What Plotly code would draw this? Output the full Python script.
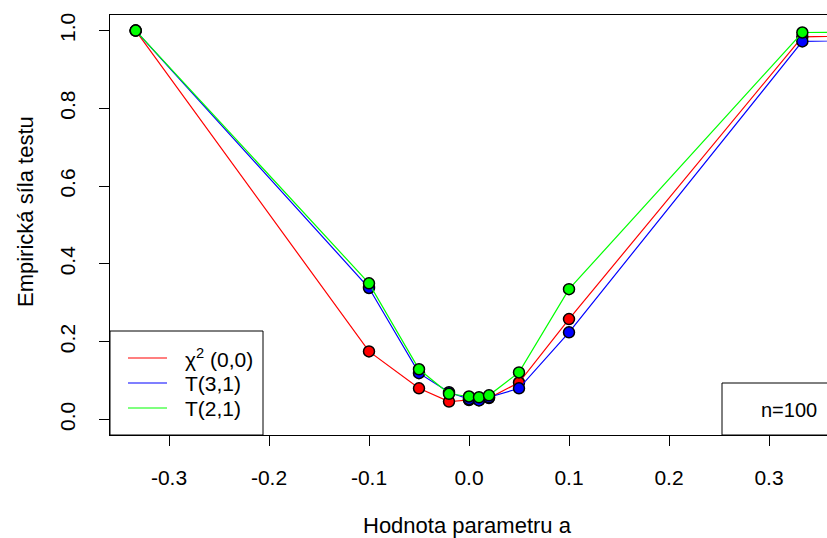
import plotly.graph_objects as go

# Data
a_vals = [-1/3, -0.1, -0.05, -0.02, 0.0, 0.01, 0.02, 0.05, 0.1, 1/3, 0.5]
chi2_00 = [1.0, 0.175, 0.080, 0.046, 0.050, 0.050, 0.055, 0.095, 0.258, 0.984, 0.990]
t_31 = [1.0, 0.338, 0.119, 0.070, 0.052, 0.049, 0.057, 0.080, 0.224, 0.972, 0.980]
t_21 = [1.0, 0.350, 0.129, 0.066, 0.059, 0.057, 0.062, 0.121, 0.335, 0.995, 0.998]

series_names = ["χ<sup>2</sup> (0,0)", "T(3,1)", "T(2,1)"]
series_values = [chi2_00, t_31, t_21]
series_colors = ["#FF0000", "#0000FF", "#00FF00"]

x_ticks = [-0.3, -0.2, -0.1, 0.0, 0.1, 0.2, 0.3]
x_ticklabels = ["-0.3", "-0.2", "-0.1", "0.0", "0.1", "0.2", "0.3"]
y_ticks = [0.0, 0.2, 0.4, 0.6, 0.8, 1.0]
y_ticklabels = ["0.0", "0.2", "0.4", "0.6", "0.8", "1.0"]

FONT = "Liberation Sans, Arial, sans-serif"
W, H = 827, 538
L, R, T, B = 110, 0, 15, 103
PW, PH = W - L - R, H - T - B


def px(xp):
    return (xp - L) / PW


def py(yp):
    return (H - B - yp) / PH


fig = go.Figure()
for name, vals, col in zip(series_names, series_values, series_colors):
    fig.add_trace(go.Scatter(
        x=a_vals, y=vals, mode="lines+markers", name=name,
        line=dict(color=col, width=1.2),
        marker=dict(color=col, size=11, line=dict(color="black", width=1.5)),
        showlegend=False,
    ))

fig.update_layout(
    width=W, height=H,
    margin=dict(l=L, r=R, t=T, b=B),
    paper_bgcolor="white", plot_bgcolor="white",
    font=dict(family=FONT, size=21, color="black"),
    showlegend=False,
    xaxis=dict(
        range=[-0.359, 0.358], tickvals=x_ticks, ticktext=x_ticklabels,
        showgrid=False, zeroline=False, showline=True, linecolor="black",
        linewidth=1, mirror=True, ticks="outside", ticklen=10,
        tickcolor="black", ticklabelstandoff=14,
        tickfont=dict(size=21),
    ),
    yaxis=dict(
        range=[-0.04, 1.04], tickvals=y_ticks, ticktext=y_ticklabels,
        showgrid=False, zeroline=False, showline=True, linecolor="black",
        linewidth=1, mirror=False, ticks="outside", ticklen=10,
        tickcolor="black", tickangle=-90, ticklabelstandoff=16,
        tickfont=dict(size=21),
    ),
)

# axis titles
fig.add_annotation(text="Hodnota parametru a", xref="paper", yref="paper",
                   x=px(467), y=py(525),
                   xanchor="center", yanchor="middle", showarrow=False,
                   font=dict(size=22))
fig.add_annotation(text="Empirická síla testu", xref="paper", yref="paper",
                   x=px(25), y=py(212), textangle=-90,
                   xanchor="center", yanchor="middle", showarrow=False,
                   font=dict(size=22))

# legend box (custom, R-style)
fig.add_shape(type="rect", xref="paper", yref="paper",
              x0=0, x1=px(263), y0=0, y1=py(331),
              line=dict(color="black", width=1), fillcolor="white", layer="above")
legend_rows = [358, 383, 408]
for name, col, ry in zip(series_names, series_colors, legend_rows):
    fig.add_shape(type="line", xref="paper", yref="paper",
                  x0=px(128), x1=px(167), y0=py(ry), y1=py(ry),
                  line=dict(color=col, width=1.2), layer="above")
    fig.add_annotation(text=name, xref="paper", yref="paper",
                       x=px(183), y=py(ry), xanchor="left", yanchor="middle",
                       showarrow=False, font=dict(size=21))

# n=100 box
fig.add_shape(type="rect", xref="paper", yref="paper",
              x0=px(722), x1=1.02, y0=0, y1=py(383),
              line=dict(color="black", width=1), fillcolor="white", layer="above")
fig.add_annotation(text="n=100", xref="paper", yref="paper",
                   x=px(789), y=py(410),
                   xanchor="center", yanchor="middle", showarrow=False,
                   font=dict(size=20))

fig.write_html("out.html", config={"displayModeBar": False},
               post_script="document.body.style.margin='0';")
